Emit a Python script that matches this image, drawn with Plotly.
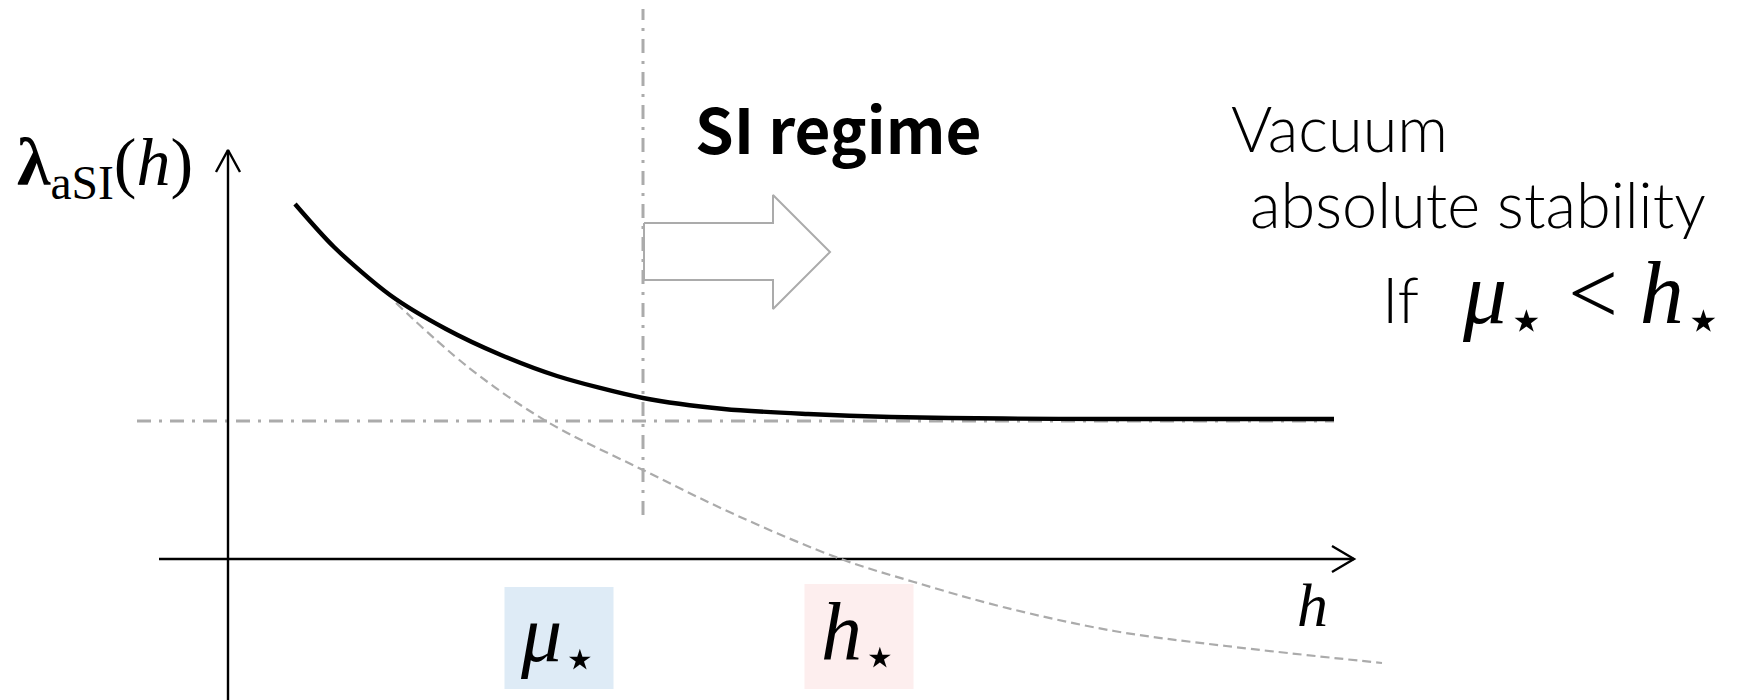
import plotly.graph_objects as go

# ---- data (schematic units: origin at axes crossing) ----
h_full = [0.67, 1.06, 1.62, 2.18, 2.73, 3.29, 4.15, 4.96, 5.80, 6.63, 7.75, 8.86, 9.98, 11.06]
lam_full = [3.55, 3.12, 2.64, 2.30, 2.04, 1.83, 1.61, 1.50, 1.45, 1.42, 1.405, 1.40, 1.40, 1.40]

h_tree = [1.68, 2.40, 3.18, 4.15, 5.10, 6.13, 6.86, 7.75, 8.86, 9.98, 11.54]
lam_tree = [2.56, 1.92, 1.38, 0.89, 0.43, 0.0, -0.23, -0.48, -0.72, -0.87, -1.04]

lam_min = 1.38          # asymptotic value (horizontal dash-dot)
h_si = 4.15             # SI regime boundary (vertical dash-dot)
mu_star_pos = 3.31
h_star_pos = 6.31

XR = [-2.28, 15.19]
YR = [-1.41, 5.59]

GRAY = "#ababab"
SERIF = "Liberation Serif"
LIGHT = "Lato"

fig = go.Figure()

# boxes behind labels
fig.add_shape(type="rect", x0=mu_star_pos - 0.545, x1=mu_star_pos + 0.545, y0=-1.30, y1=-0.28,
              fillcolor="#deebf6", line_width=0, layer="below")
fig.add_shape(type="rect", x0=h_star_pos - 0.545, x1=h_star_pos + 0.545, y0=-1.30, y1=-0.25,
              fillcolor="#fdeeee", line_width=0, layer="below")

DD = "14px,8px,3px,8px"
# reference lines
fig.add_trace(go.Scatter(x=[-0.91, 11.06], y=[lam_min, lam_min], mode="lines",
                         line=dict(color=GRAY, width=3, dash=DD), hoverinfo="skip"))
fig.add_trace(go.Scatter(x=[h_si, h_si], y=[0.44, 5.50], mode="lines",
                         line=dict(color=GRAY, width=3, dash=DD), hoverinfo="skip"))

# axes with open arrowheads
fig.add_trace(go.Scatter(x=[-0.69, 11.26], y=[0, 0], mode="lines",
                         line=dict(color="black", width=2.4), hoverinfo="skip"))
fig.add_trace(go.Scatter(x=[11.04, 11.26, 11.04], y=[0.13, 0, -0.13], mode="lines",
                         line=dict(color="black", width=2.4), hoverinfo="skip"))
fig.add_trace(go.Scatter(x=[0, 0], y=[-1.45, 4.09], mode="lines",
                         line=dict(color="black", width=2.4), hoverinfo="skip"))
fig.add_trace(go.Scatter(x=[-0.12, 0, 0.12], y=[3.87, 4.09, 3.87], mode="lines",
                         line=dict(color="black", width=2.4), hoverinfo="skip"))

# curves
fig.add_trace(go.Scatter(x=h_tree, y=lam_tree, mode="lines", line_shape="spline",
                         line=dict(color=GRAY, width=2.2, dash="9px,5px"), hoverinfo="skip"))
fig.add_trace(go.Scatter(x=h_full, y=lam_full, mode="lines", line_shape="spline",
                         line=dict(color="black", width=4.4, smoothing=0.8), hoverinfo="skip"))

# block arrow
ax = [4.16, 5.45, 5.45, 6.02, 5.45, 5.45, 4.16, 4.16]
ay = [3.36, 3.36, 3.64, 3.07, 2.50, 2.79, 2.79, 3.36]
fig.add_trace(go.Scatter(x=ax, y=ay, mode="lines", fill="toself", fillcolor="white",
                         line=dict(color=GRAY, width=2), hoverinfo="skip"))

def txt(x, y, text, size, family, color="black", xanchor="center", weight=None):
    f = dict(size=size, family=family, color=color)
    if weight is not None:
        f["weight"] = weight
    fig.add_annotation(x=x, y=y, text=text, showarrow=False, xanchor=xanchor, yanchor="middle",
                       font=f)

STAR = "<sub>⋆</sub>"

txt(6.10, 4.32, "<b>SI regime</b>", 62, "Noto Sans CJK JP")
txt(-2.13, 3.93, "<b>λ</b><sub>aSI</sub>(<i>h</i>)", 68, SERIF, xanchor="left")
txt(10.01, 4.32, "Vacuum", 63, LIGHT, xanchor="left", weight=300)
txt(10.20, 3.56, "absolute stability", 63, LIGHT, xanchor="left", weight=300)
fig.add_annotation(x=11.52, y=2.60, xanchor="left", yanchor="middle", showarrow=False,
                   text="<span style='font-family:Lato;font-weight:300;font-size:63px'>If</span>&nbsp;&nbsp;<i>μ</i>" + STAR + " &lt; <i>h</i>" + STAR,
                   font=dict(size=88, family=SERIF, color="black"))
txt(mu_star_pos, -0.80, "<i>μ</i>" + STAR, 82, SERIF)
txt(h_star_pos, -0.78, "<i>h</i>" + STAR, 82, SERIF)
txt(10.84, -0.46, "<i>h</i>", 62, SERIF)

fig.update_layout(
    width=1747, height=700, autosize=False,
    margin=dict(l=0, r=0, t=0, b=0),
    paper_bgcolor="white", plot_bgcolor="white",
    showlegend=False,
    xaxis=dict(range=XR, visible=False, fixedrange=True),
    yaxis=dict(range=YR, visible=False, fixedrange=True),
)

fig.write_html("out.html")
